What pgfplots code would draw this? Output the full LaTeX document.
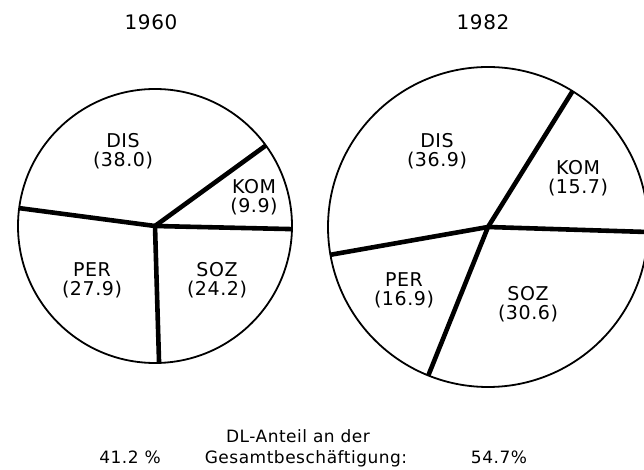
\documentclass[border=0pt]{standalone}
\usepackage{pgfplots}
\pgfplotsset{compat=1.18}
\usepgfplotslibrary{polar}
\usepackage{fontspec}
\setmainfont[LetterSpace=3]{DejaVu Sans}
\begin{document}
\begin{tikzpicture}
\useasboundingbox (0pt,0pt) rectangle (644pt,470pt);
\clip (0pt,0pt) rectangle (644pt,470pt);
\pgfplotsset{pie/.style={scale only axis, xmin=0, xmax=360, ymin=0, ymax=1,
  xtick=\empty, ytick=\empty, grid=none,
  x axis line style={line width=1.8pt}, y axis line style={draw=none},
  anchor=origin}}
\tikzset{wedge/.style={black, line width=4.6pt, line cap=round}}
% 1960
\begin{polaraxis}[pie, width=274pt, height=274pt, at={(155pt,244pt)}]
\addplot[wedge] coordinates {(0,0) (-1.3,1)};
\addplot[wedge] coordinates {(0,0) (36.0,1)};
\addplot[wedge] coordinates {(0,0) (172.5,1)};
\addplot[wedge] coordinates {(0,0) (271.7,1)};
\end{polaraxis}
% 1982
\begin{polaraxis}[pie, width=320pt, height=320pt, at={(488pt,243pt)}]
\addplot[wedge] coordinates {(0,0) (-1.8,1)};
\addplot[wedge] coordinates {(0,0) (58.1,1)};
\addplot[wedge] coordinates {(0,0) (190.0,1)};
\addplot[wedge] coordinates {(0,0) (248.1,1)};
\end{polaraxis}
\tikzset{lab/.style={align=center, font=\fontsize{19}{19}\selectfont, inner sep=0pt}}
\node[lab] at (123pt,319pt) {DIS\\(38.0)};
\node[lab] at (254pt,273pt) {KOM\\(9.9)};
\node[lab] at (92pt,190pt) {PER\\(27.9)};
\node[lab] at (217pt,190pt) {SOZ\\(24.2)};
\node[lab] at (437pt,319pt) {DIS\\(36.9)};
\node[lab] at (578pt,292pt) {KOM\\(15.7)};
\node[lab] at (404pt,180pt) {PER\\(16.9)};
\node[lab] at (528pt,166pt) {SOZ\\(30.6)};
\node[font=\fontsize{20}{20}\selectfont, anchor=base] at (151pt,440pt) {1960};
\node[font=\fontsize{20}{20}\selectfont, anchor=base] at (483pt,440pt) {1982};
\tikzset{bot/.style={font=\fontsize{17}{17}\selectfont, anchor=base}}
\node[bot] at (298pt,27pt) {DL-Anteil an der};
\node[bot] at (306pt,6pt) {Gesamtbeschäftigung:};
\node[bot] at (130pt,6pt) {41.2 \%};
\node[bot] at (499pt,6pt) {54.7\%};
\end{tikzpicture}
\end{document}
